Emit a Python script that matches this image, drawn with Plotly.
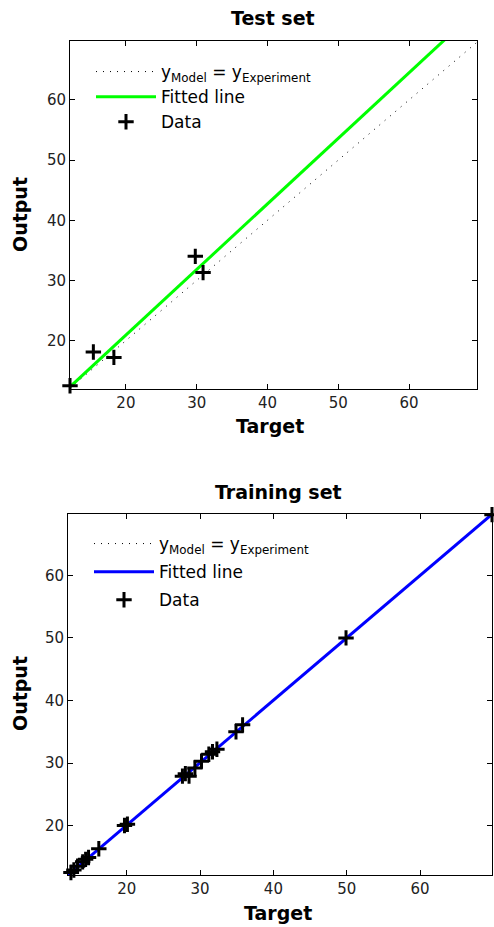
import plotly.graph_objects as go

W, H = 494, 927

# ---------------- data ----------------
test_target = [12.1, 15.4, 18.3, 29.8, 30.9]
test_output = [12.5, 18.1, 17.2, 34.0, 31.3]
test_fit_slope, test_fit_intercept = 1.09, -0.88

train_target = [12.1, 12.4, 12.8, 13.3, 14.0, 14.4, 14.8, 16.2, 19.7, 20.1, 27.6, 28.0,
                28.5, 29.3, 30.2, 31.2, 31.7, 32.3, 34.9, 35.8, 49.9, 69.8]
train_output = [12.0, 12.5, 12.9, 13.5, 14.2, 14.6, 14.9, 16.3, 20.0, 20.2, 27.9, 28.3,
                27.9, 29.2, 30.3, 31.4, 31.8, 32.2, 35.0, 36.1, 50.0, 69.7]
train_fit_slope, train_fit_intercept = 0.998, 0.1

test_range_x = [12.1, 69.6]
test_range_y = [11.95, 69.8]
train_range_x = [12.0, 69.8]
train_range_y = [12.1, 69.8]
tick_vals = [20, 30, 40, 50, 60]

ident_label = "y<sub>Model</sub> = y<sub>Experiment</sub>"

FONT = "DejaVu Sans"

fig = go.Figure()

def add_panel(tx, ty, slope, icpt, rx, ry, color, xa, ya, legend, groups):
    # identity line
    fig.add_trace(go.Scatter(
        x=rx, y=rx, mode="lines", name=ident_label,
        line=dict(color="black", width=1, dash="1px,6px"),
        xaxis=xa, yaxis=ya, legend=legend, legendgroup=groups[0]))
    fx = [rx[0], rx[1]]
    fy = [slope * v + icpt for v in fx]
    fig.add_trace(go.Scatter(
        x=fx, y=fy, mode="lines", name="Fitted line",
        line=dict(color=color, width=3),
        xaxis=xa, yaxis=ya, legend=legend, legendgroup=groups[1]))
    fig.add_trace(go.Scatter(
        x=tx, y=ty, mode="markers", name="Data",
        marker=dict(symbol="cross-thin", size=11, line=dict(color="black", width=3)),
        cliponaxis=False,
        xaxis=xa, yaxis=ya, legend=legend, legendgroup=groups[2]))

add_panel(test_target, test_output, test_fit_slope, test_fit_intercept,
          test_range_x, test_range_y, "#00ff00", "x", "y", "legend", ["t1", "t2", "t3"])
add_panel(train_target, train_output, train_fit_slope, train_fit_intercept,
          train_range_x, train_range_y, "#0000ff", "x2", "y2", "legend2", ["r1", "r2", "r3"])

def px_x(p):
    return p / W

def px_y(p):
    return 1 - p / H

axis_common = dict(showline=True, linecolor="black", linewidth=1, mirror="ticks",
                   ticks="inside", ticklen=5, tickcolor="black", showgrid=False,
                   zeroline=False, tickvals=tick_vals,
                   tickfont=dict(family=FONT, size=15, color="#222"))

leg_common = dict(xanchor="left", yanchor="top", itemwidth=60,
                  bgcolor="rgba(0,0,0,0)", font=dict(family=FONT, size=17, color="black"))

fig.update_layout(
    width=W, height=H,
    margin=dict(l=0, r=0, t=0, b=0),
    paper_bgcolor="white", plot_bgcolor="white",
    xaxis=dict(domain=[px_x(70), px_x(477)], range=test_range_x, anchor="y", **axis_common),
    yaxis=dict(domain=[px_y(389), px_y(41)], range=test_range_y, anchor="x", **axis_common),
    xaxis2=dict(domain=[px_x(68), px_x(492)], range=train_range_x, anchor="y2", **axis_common),
    yaxis2=dict(domain=[px_y(875), px_y(514)], range=train_range_y, anchor="x2", **axis_common),
    legend=dict(x=px_x(91), y=px_y(54), tracegroupgap=0, **leg_common),
    legend2=dict(x=px_x(89), y=px_y(526), tracegroupgap=3, **leg_common),
    showlegend=True,
)

def ann(text, x, y, size=19, angle=0):
    fig.add_annotation(text=f"<b>{text}</b>", x=px_x(x), y=px_y(y), xref="paper", yref="paper",
                       showarrow=False, textangle=angle, xanchor="center", yanchor="middle",
                       font=dict(family=FONT, size=size, color="black"))

ann("Test set", 273, 18)
ann("Target", 270, 426)
ann("Output", 20, 215, angle=-90)
ann("Training set", 278, 492)
ann("Target", 278, 913)
ann("Output", 20, 694, angle=-90)

fig.write_html("out.html")
